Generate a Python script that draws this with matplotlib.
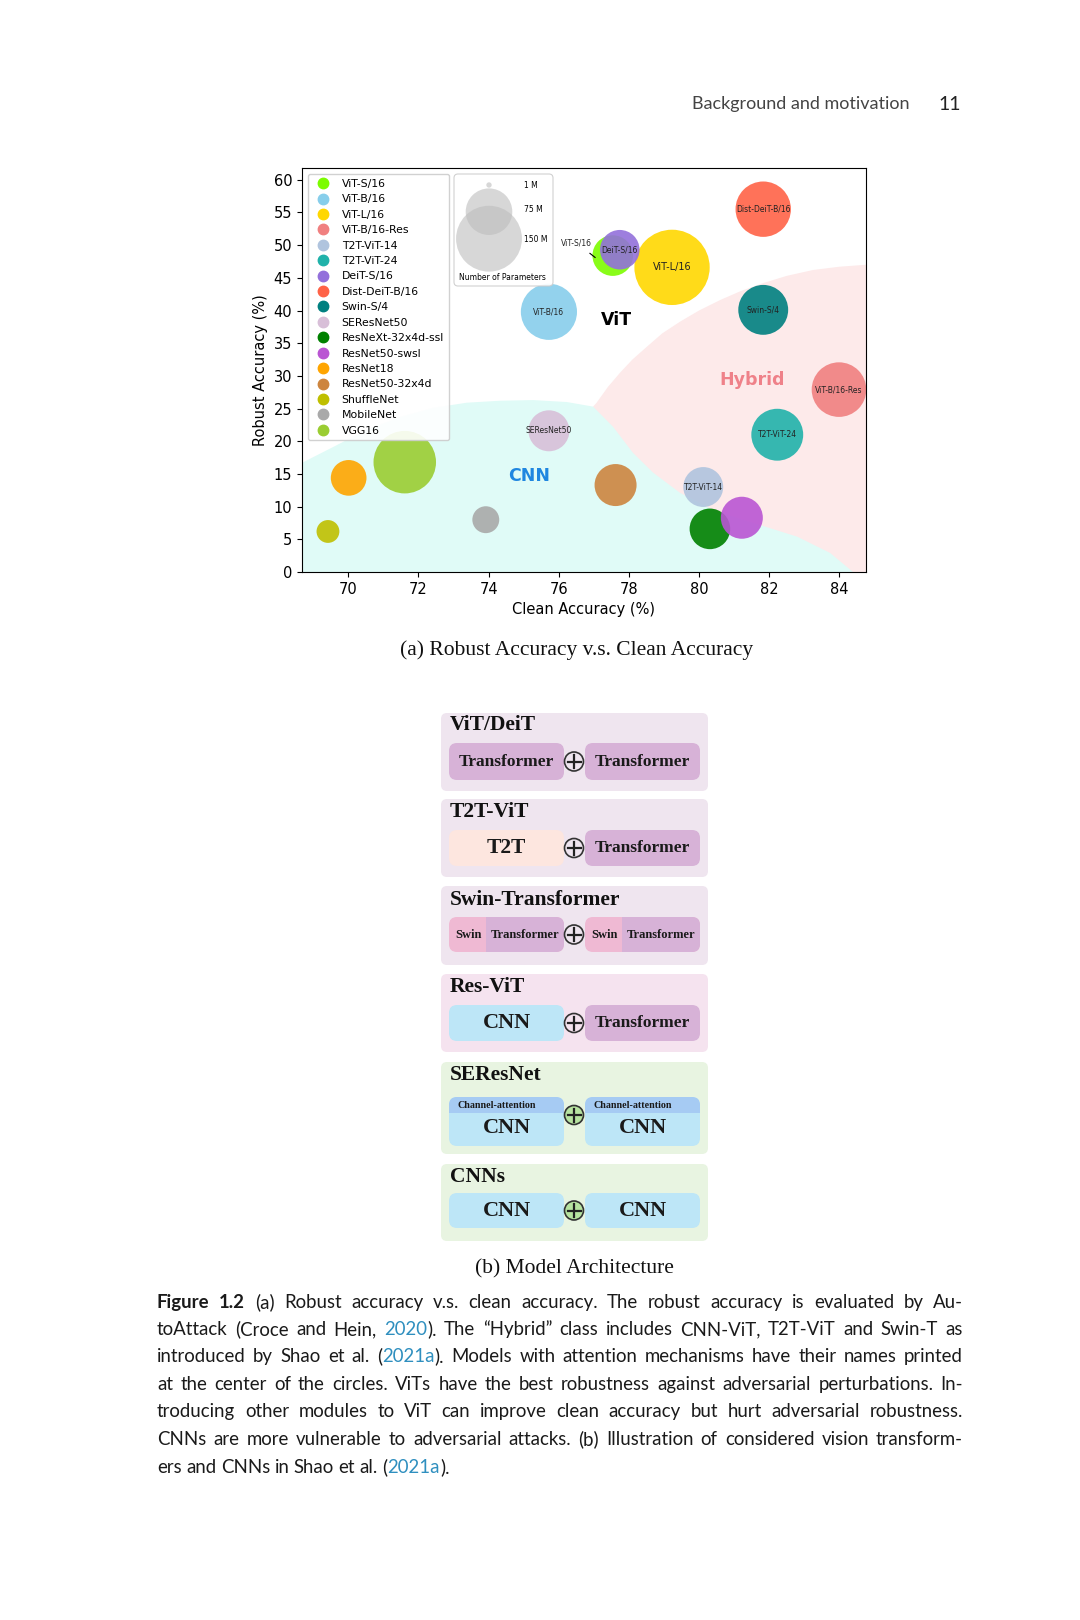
"""Robust vs clean accuracy bubble chart plus architecture sketch, laid out as a book page"""
import re

import matplotlib
matplotlib.use("Agg")
import matplotlib.pyplot as plt
from matplotlib import font_manager
from matplotlib.lines import Line2D
from matplotlib.patches import FancyBboxPatch, Circle, Rectangle

W, H = 1080, 1620

# ---- chart data ----
models = ["ViT-S/16", "ViT-B/16", "ViT-L/16", "ViT-B/16-Res", "T2T-ViT-14", "T2T-ViT-24",
          "DeiT-S/16", "Dist-DeiT-B/16", "Swin-S/4", "SEResNet50", "ResNeXt-32x4d-ssl",
          "ResNet50-swsl", "ResNet18", "ResNet50-32x4d", "ShuffleNet", "MobileNet", "VGG16"]
clean_acc = [77.54, 75.72, 79.23, 83.99, 80.12, 82.23, 77.74, 81.83, 81.83, 75.72,
             80.31, 81.22, 70.01, 77.62, 69.42, 73.92, 71.61]
robust_acc = [48.4, 39.8, 46.6, 27.9, 13.0, 21.0, 49.3, 55.5, 40.1, 21.6,
              6.6, 8.3, 14.4, 13.3, 6.2, 8.0, 16.8]
params_m = [57, 109, 196, 103, 55, 93, 54, 106, 86, 58, 57, 61, 44, 61, 18, 25, 135]
colors = ["lawngreen", "skyblue", "gold", "lightcoral", "lightsteelblue", "lightseagreen",
          "mediumpurple", "tomato", "teal", "thistle", "green", "mediumorchid",
          "orange", "peru", "y", "darkgray", "yellowgreen"]
# models whose names are printed inside the bubble
labelled = ["ViT-B/16", "ViT-L/16", "ViT-B/16-Res", "T2T-ViT-14", "T2T-ViT-24",
            "DeiT-S/16", "Dist-DeiT-B/16", "Swin-S/4", "SEResNet50"]
size_legend = [1, 75, 150]

# shaded class regions (boundary points, data coords)
cnn_x = [68.68, 69.56, 70.5, 71.47, 72.41, 73.38, 74.33, 75.27, 76.23, 76.98,
         77.55, 78.12, 78.69, 79.46, 80.4, 81.55, 82.8, 83.74, 84.39]
cnn_y = [16.7, 19.1, 21.7, 23.7, 25.1, 25.9, 26.2, 26.3, 26.0, 25.3,
         22.2, 18.2, 15.2, 12.1, 9.5, 7.5, 5.4, 2.9, 0.0]
hyb_x = [76.98, 77.08, 77.4, 77.75, 78.1, 78.5, 78.95, 79.46, 80.0, 80.6, 81.2,
         81.83, 82.5, 83.25, 84.0, 84.76]
hyb_y = [25.3, 25.9, 28.3, 30.5, 32.5, 34.4, 36.5, 38.3, 40.0, 41.6, 43.0,
         44.2, 45.3, 46.2, 46.7, 47.0]

SIZE_K = 15.0  # points^2 per million parameters

names = {f.name for f in font_manager.fontManager.ttflist}
cap_font = "Liberation Sans Narrow" if "Liberation Sans Narrow" in names else "Lato"
serif = "Liberation Serif"

fig = plt.figure(figsize=(W / 100, H / 100), dpi=100)
fig.patch.set_facecolor("white")

# ---- (a) scatter ----
ax = fig.add_axes([302 / W, 1 - 572 / H, (866 - 302) / W, (572 - 168) / H])
ax.set_xlim(68.68, 84.76)
ax.set_ylim(0, 61.8)
ax.fill(hyb_x + [84.76, 76.98], hyb_y + [0, 0], color="#fdeaea", lw=0, zorder=0)
ax.fill(cnn_x + [68.68], cnn_y + [0], color="#e0fbf7", lw=0, zorder=0.5)

for i in range(len(models)):
    ax.scatter(clean_acc[i], robust_acc[i], s=params_m[i] * SIZE_K, color=colors[i],
               alpha=0.9, edgecolors="none", zorder=2 + i * 0.01)
for name in labelled:
    i = models.index(name)
    ax.text(clean_acc[i], robust_acc[i], name, ha="center", va="center",
            fontsize=7 if name == "ViT-L/16" else 5.5, color="#222222", zorder=3)
ax.annotate("ViT-S/16", xy=(77.04, 48.1), xytext=(76.5, 50.4), fontsize=5.5,
            ha="center", va="center", color="#222222",
            arrowprops=dict(arrowstyle="-", color="black", lw=0.8, shrinkA=4, shrinkB=0),
            zorder=3)

ax.text(77.66, 38.6, "ViT", fontsize=12.5, fontweight="bold", color="black",
        ha="center", va="center", zorder=3)
ax.text(75.16, 14.7, "CNN", fontsize=12.5, fontweight="bold", color="#1f86e0",
        ha="center", va="center", zorder=3)
ax.text(81.5, 29.3, "Hybrid", fontsize=12.5, fontweight="bold", color="#ef8189",
        ha="center", va="center", zorder=3)

ax.set_xticks([70, 72, 74, 76, 78, 80, 82, 84])
ax.set_yticks(range(0, 61, 5))
ax.tick_params(labelsize=10.5)
ax.set_xlabel("Clean Accuracy (%)", fontsize=10.5)
ax.set_ylabel("Robust Accuracy (%)", fontsize=10.5)

handles = [Line2D([], [], marker="o", ls="none", color=c, markersize=7.5) for c in colors]
ax.legend(handles, models, loc="upper left", bbox_to_anchor=(0.0098, 0.985),
          borderaxespad=0, fontsize=7.8, labelspacing=0.5, handletextpad=0.7,
          borderpad=0.45, framealpha=0.9)

# ---- page overlay in pixel coords ----
page = fig.add_axes([0, 0, 1, 1])
page.set_xlim(0, W)
page.set_ylim(H, 0)
page.axis("off")

# size legend box
page.add_patch(FancyBboxPatch((454, 174), 99, 112, boxstyle="round,pad=0,rounding_size=4",
                              fc="white", ec="#cccccc", lw=0.8, alpha=0.9, zorder=1))
for p, cy in zip(size_legend, [185, 211.7, 238.7]):
    page.scatter(489, cy, s=p * SIZE_K, color="#bdbdbd", alpha=0.6, edgecolors="none", zorder=2)
for p, cy in zip(size_legend, [185, 209, 239]):
    page.text(524, cy, f"{p} M", fontsize=5.5, va="center", ha="left", zorder=3)
page.text(502, 277, "Number of Parameters", fontsize=5.5, ha="center", va="center", zorder=3)

page.text(577, 650, "(a) Robust Accuracy v.s. Clean Accuracy", family=serif,
          fontsize=15.5, ha="center", va="center", color="#111111")

# header
page.text(910, 104, "Background and motivation", family="Lato",
          fontsize=13, color="#444444", ha="right", va="center")
page.text(961, 104, "11", family="Lato", fontsize=14, color="#222222", ha="right", va="center")

# ---- (b) architecture ----
LAV, PINK, GREEN = "#efe5ef", "#f5e3ef", "#e8f4e1"
TRANS, CNNC, ATT, SWIN, T2TC = "#d7b2d7", "#bde6f7", "#a6cbf3", "#efb9d3", "#fde6df"
block_titles = ["ViT/DeiT", "T2T-ViT", "Swin-Transformer", "Res-ViT", "SEResNet", "CNNs"]
block_y = [(713, 791), (799, 877), (886, 965), (974, 1052), (1062, 1154), (1164, 1241)]
block_bg = [LAV, LAV, LAV, PINK, GREEN, GREEN]
title_y = [725, 812, 900, 987, 1075, 1177]
pill_y = [(743, 780), (830, 866), (917, 952), (1005, 1041), (1097, 1146), (1193, 1228)]
LX, RX, PW = 449, 585, 115


def pill(x, y0, y1, fc):
    patch = FancyBboxPatch((x, y0), PW, y1 - y0, boxstyle="round,pad=0,rounding_size=8",
                           fc=fc, ec="none", zorder=2)
    page.add_patch(patch)
    return patch


def split_pill(x, y0, y1, left_fc, right_fc, split):
    patch = pill(x, y0, y1, left_fc)
    r = Rectangle((x + split, y0), PW - split, y1 - y0, fc=right_fc, ec="none", zorder=2.1)
    page.add_patch(r)
    r.set_clip_path(patch)


def label(x, y, s, size):
    page.text(x, y, s, family=serif, fontweight="bold", fontsize=size,
              ha="center", va="center", color="#1a1a1a", zorder=4)


for k, title in enumerate(block_titles):
    y0, y1 = block_y[k]
    page.add_patch(FancyBboxPatch((441, y0), 267, y1 - y0, boxstyle="round,pad=0,rounding_size=6",
                                  fc=block_bg[k], ec="none", zorder=1))
    page.text(450, title_y[k], title, family=serif, fontweight="bold", fontsize=15.5,
              ha="left", va="center", color="#111111", zorder=4)
    py0, py1 = pill_y[k]
    pc = (py0 + py1) / 2
    if title == "ViT/DeiT":
        pill(LX, py0, py1, TRANS)
        pill(RX, py0, py1, TRANS)
        label(LX + PW / 2, pc, "Transformer", 12.5)
        label(RX + PW / 2, pc, "Transformer", 12.5)
    elif title == "T2T-ViT":
        pill(LX, py0, py1, T2TC)
        pill(RX, py0, py1, TRANS)
        label(LX + PW / 2, pc, "T2T", 15.5)
        label(RX + PW / 2, pc, "Transformer", 12.5)
    elif title == "Swin-Transformer":
        for x in (LX, RX):
            split_pill(x, py0, py1, SWIN, TRANS, 37)
            label(x + 19, pc, "Swin", 9)
            label(x + 76, pc, "Transformer", 9)
    elif title == "Res-ViT":
        pill(LX, py0, py1, CNNC)
        pill(RX, py0, py1, TRANS)
        label(LX + PW / 2, pc, "CNN", 16)
        label(RX + PW / 2, pc, "Transformer", 12.5)
    elif title == "SEResNet":
        for x in (LX, RX):
            p = pill(x, py0, py1, CNNC)
            r = Rectangle((x, py0), PW, 16, fc=ATT, ec="none", zorder=2.1)
            page.add_patch(r)
            r.set_clip_path(p)
            page.text(x + 8, py0 + 8, "Channel-attention", family=serif, fontweight="bold",
                      fontsize=7.2, ha="left", va="center", color="#1a1a1a", zorder=4)
            label(x + PW / 2, py0 + 31, "CNN", 16)
        pc = 1115
    else:
        pill(LX, py0, py1, CNNC)
        pill(RX, py0, py1, CNNC)
        label(LX + PW / 2, pc, "CNN", 16)
        label(RX + PW / 2, pc, "CNN", 16)
    fc = "#b7e3a0" if block_bg[k] == GREEN else block_bg[k]
    page.add_patch(Circle((574, pc), 9.5, fc=fc, ec="#333333", lw=1.2, zorder=5))
    page.plot([567.5, 580.5], [pc, pc], color="#222222", lw=1.6, zorder=6)
    page.plot([574, 574], [pc - 6.5, pc + 6.5], color="#222222", lw=1.6, zorder=6)

page.text(574, 1269, "(b) Model Architecture", family=serif, fontsize=15.5,
          ha="center", va="center", color="#111111")

# ---- figure caption (justified) ----
caption_lines = [
    "[Figure] [1.2] (a) Robust accuracy v.s. clean accuracy. The robust accuracy is evaluated by Au-",
    "toAttack (Croce and Hein, {2020}). The \u201cHybrid\u201d class includes CNN-ViT, T2T-ViT and Swin-T as",
    "introduced by Shao et al. ({2021a}). Models with attention mechanisms have their names printed",
    "at the center of the circles. ViTs have the best robustness against adversarial perturbations. In-",
    "troducing other modules to ViT can improve clean accuracy but hurt adversarial robustness.",
    "CNNs are more vulnerable to adversarial attacks. (b) Illustration of considered vision transform-",
    "ers and CNNs in Shao et al. ({2021a}).",
]
caption_y = [1302, 1329, 1356, 1384, 1411, 1439, 1467]
CAP_X0, CAP_X1, CAP_SIZE = 157, 963, 13.4

renderer = fig.canvas.get_renderer()
for n, (line, y) in enumerate(zip(caption_lines, caption_y)):
    words = []
    for word in line.split(" "):
        segs = []
        for part in re.split(r"(\{[^}]*\}|\[[^\]]*\])", word):
            if not part:
                continue
            color, weight = "#1a1a1a", "normal"
            if part.startswith("{"):
                part, color = part[1:-1], "#2f8fbf"
            elif part.startswith("["):
                part, weight = part[1:-1], "bold"
            t = page.text(0, y + 6, part, family=cap_font, fontsize=CAP_SIZE, fontweight=weight,
                          color=color, ha="left", va="baseline")
            segs.append((t, t.get_window_extent(renderer).width))
        words.append(segs)
    widths = [sum(w for _, w in segs) for segs in words]
    last = n == len(caption_lines) - 1
    gap = 4.5 if last else (CAP_X1 - CAP_X0 - sum(widths)) / (len(words) - 1)
    x = CAP_X0
    for segs in words:
        for t, w in segs:
            t.set_x(x)
            x += w
        x += gap

fig.savefig("out.png", dpi=100, facecolor="white")
